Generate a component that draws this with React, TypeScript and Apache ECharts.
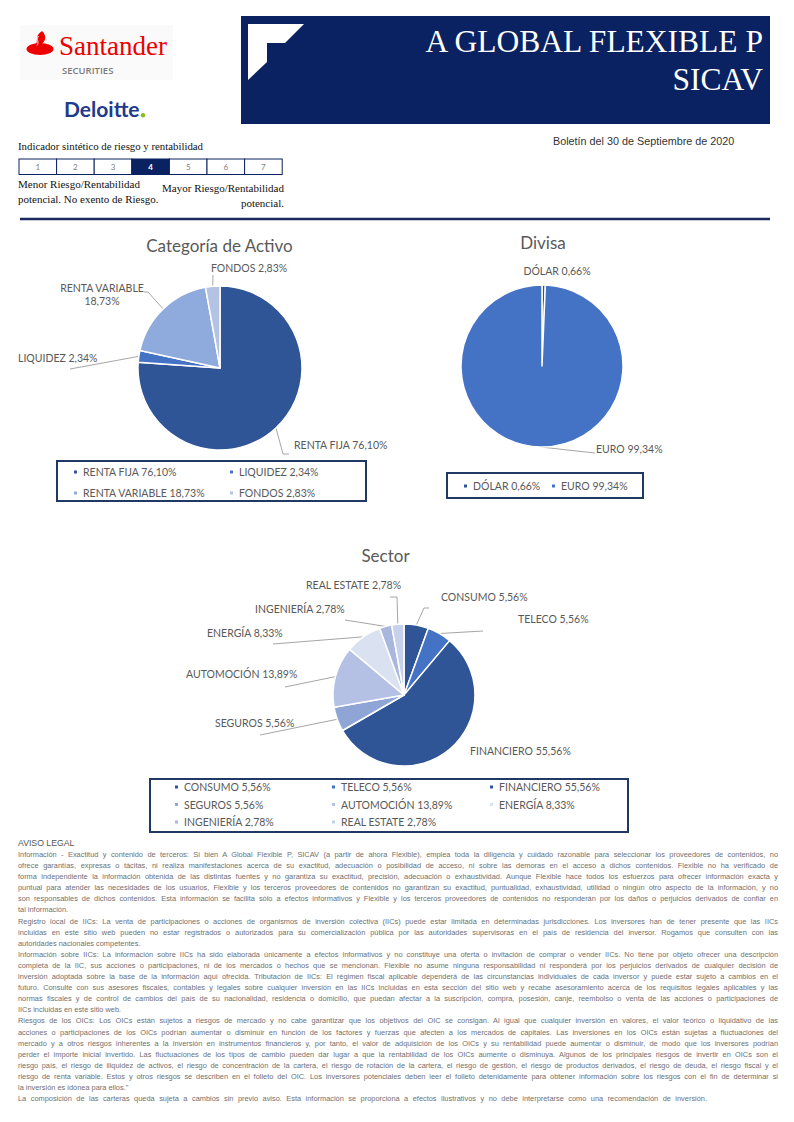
import React, { useEffect, useRef } from 'react';
import * as echarts from 'echarts';

// ---------- DATA ----------
const assetCategories = ['RENTA FIJA', 'LIQUIDEZ', 'RENTA VARIABLE', 'FONDOS'];
const assetValues = [76.1, 2.34, 18.73, 2.83];

const currencyCategories = ['DÓLAR', 'EURO'];
const currencyValues = [0.66, 99.34];

const sectorCategories = ['CONSUMO', 'TELECO', 'FINANCIERO', 'SEGUROS', 'AUTOMOCIÓN', 'ENERGÍA', 'INGENIERÍA', 'REAL ESTATE'];
const sectorValues = [5.56, 5.56, 55.56, 5.56, 13.89, 8.33, 2.78, 2.78];

const riskLevels = [1, 2, 3, 4, 5, 6, 7];
const riskSelected = 4;

const chartTitles = ['Categoría de Activo', 'Divisa', 'Sector'];

const legalLines: { t: string; last?: boolean }[] = [
  { t: 'Información - Exactitud y contenido de terceros: Si bien A Global Flexible P, SICAV (a partir de ahora Flexible), emplea toda la diligencia y cuidado razonable para seleccionar los proveedores de contenidos, no' },
  { t: 'ofrece garantías, expresas o tácitas, ni realiza manifestaciones acerca de su exactitud, adecuación o posibilidad de acceso, ni sobre las demoras en el acceso a dichos contenidos. Flexible no ha verificado de' },
  { t: 'forma independiente la información obtenida de las distintas fuentes y no garantiza su exactitud, precisión, adecuación o exhaustividad. Aunque Flexible hace todos los esfuerzos para ofrecer información exacta y' },
  { t: 'puntual para atender las necesidades de los usuarios, Flexible y los terceros proveedores de contenidos no garantizan su exactitud, puntualidad, exhaustividad, utilidad o ningún otro aspecto de la información, y no' },
  { t: 'son responsables de dichos contenidos. Esta información se facilita sólo a efectos informativos y Flexible y los terceros proveedores de contenidos no responderán por los daños o perjuicios derivados de confiar en' },
  { t: 'tal información.', last: true },
  { t: 'Registro local de IICs: La venta de participaciones o acciones de organismos de inversión colectiva (IICs) puede estar limitada en determinadas jurisdicciones. Los inversores han de tener presente que las IICs' },
  { t: 'incluidas en este sitio web pueden no estar registrados o autorizados para su comercialización pública por las autoridades supervisoras en el país de residencia del inversor. Rogamos que consulten con las' },
  { t: 'autoridades  nacionales  competentes.', last: true },
  { t: 'Información sobre IICs: La información sobre IICs ha sido elaborada únicamente a efectos informativos y no constituye una oferta o invitación de comprar o vender IICs. No tiene por objeto ofrecer una descripción' },
  { t: 'completa de la IIC, sus acciones o participaciones, ni de los mercados o hechos que se mencionan. Flexible no asume ninguna responsabilidad ni responderá por los perjuicios derivados de cualquier decisión de' },
  { t: 'inversión adoptada sobre la base de la información aquí ofrecida. Tributación de IICs: El régimen fiscal aplicable dependerá de las circunstancias individuales de cada inversor y puede estar sujeto a cambios en el' },
  { t: 'futuro. Consulte con sus asesores fiscales, contables y legales sobre cualquier inversión en las IICs incluidas en esta sección del sitio web y recabe asesoramiento acerca de los requisitos legales aplicables y las' },
  { t: 'normas fiscales y de control de cambios del país de su nacionalidad, residencia o domicilio, que puedan afectar a la suscripción, compra, posesión, canje, reembolso o venta de las acciones o participaciones de' },
  { t: 'IICs incluidas en este sitio web.', last: true },
  { t: 'Riesgos de los OICs: Los OICs están sujetos a riesgos de mercado y no cabe garantizar que los objetivos del OIC se consigan. Al igual que cualquier inversión en valores, el valor teórico o liquidativo de las' },
  { t: 'acciones o participaciones de los OICs podrían aumentar o disminuir en función de los factores y fuerzas que afecten a los mercados de capitales. Las inversiones en los OICs están sujetas a fluctuaciones del' },
  { t: 'mercado y a otros riesgos inherentes a la inversión en instrumentos financieros y, por tanto, el valor de adquisición de los OICs y su rentabilidad puede aumentar o disminuir, de modo que los inversores podrían' },
  { t: 'perder el importe inicial invertido. Las fluctuaciones de los tipos de cambio pueden dar lugar a que la rentabilidad de los OICs aumente o disminuya. Algunos de los principales riesgos de invertir en OICs son el' },
  { t: 'riesgo país, el riesgo de iliquidez de activos, el riesgo de concentración de la cartera, el riesgo de rotación de la cartera, el riesgo de gestión, el riesgo de productos derivados, el riesgo de deuda, el riesgo fiscal y el' },
  { t: 'riesgo de renta variable. Estos y otros riesgos se describen en el folleto del OIC. Los inversores potenciales deben leer el folleto detenidamente para obtener información sobre los riesgos con el fin de determinar si' },
  { t: 'la inversión es idónea para ellos."', last: true },
  { t: 'La composición de las carteras queda  sujeta a cambios sin previo aviso. Esta información se proporciona a efectos ilustrativos y no debe interpretarse como una recomendación  de inversión.', last: true },
];

// ---------- STYLES ----------
const NAVY = '#0B2262';
const BOX = '#1F3864';
const FONT = 'Lato, "Open Sans", sans-serif';
const assetColors = ['#2F5597', '#4472C4', '#8FAADC', '#B4C2E4'];
const currencyColors = ['#2F5597', '#4472C4'];
const sectorColors = ['#2F5597', '#4472C4', '#2F5597', '#8EA5D6', '#B4C1E4', '#DAE1F1', '#A9B6DD', '#C8D1EC'];
const finalLegalLineWidth = 689;

type LP = { x: number; y: number; align: string; line: number[][] };
const assetLabelPos: LP[] = [
  { x: 294, y: 445, align: 'left', line: [[283, 454], [289, 454]] },
  { x: 18, y: 358, align: 'left', line: [[70, 369]] },
  { x: 102, y: 294, align: 'center', line: [[148, 292], [144, 292]] },
  { x: 211, y: 268, align: 'left', line: [[213, 275]] },
];
const currencyLabelPos: LP[] = [
  { x: 557, y: 271, align: 'center', line: [] },
  { x: 596, y: 449, align: 'left', line: [[595, 453]] },
];
const sectorLabelPos: LP[] = [
  { x: 441, y: 597, align: 'left', line: [[424, 608], [429, 608]] },
  { x: 518, y: 619, align: 'left', line: [[483, 631]] },
  { x: 470, y: 751, align: 'left', line: [] },
  { x: 215, y: 723, align: 'left', line: [[260, 735]] },
  { x: 186, y: 674, align: 'left', line: [[285, 687]] },
  { x: 207, y: 633, align: 'left', line: [[273, 644]] },
  { x: 255, y: 609, align: 'left', line: [[345, 620]] },
  { x: 306, y: 585, align: 'left', line: [[397, 597], [390, 597]] },
];
const twoLineLabels = new Set(['RENTA VARIABLE']);

const fmtPct = (v: number) => v.toFixed(2).replace('.', ',') + '%';

const valueByName = new Map<string, number>();
assetCategories.forEach((n, i) => valueByName.set(n, assetValues[i]));
currencyCategories.forEach((n, i) => valueByName.set(n, currencyValues[i]));
sectorCategories.forEach((n, i) => valueByName.set(n, sectorValues[i]));

function labelLayoutFor(positions: LP[]) {
  return (params: any) => {
    const p = positions[params.dataIndex];
    if (!p) return {};
    const pts = params.labelLinePoints;
    const out: any = { x: p.x, y: p.y, align: p.align, verticalAlign: 'middle' };
    if (pts && pts.length) {
      const edge = pts[0];
      const line = [edge, ...p.line];
      if (line.length === 1) line.push([edge[0], edge[1]]);
      out.labelLinePoints = line;
    }
    return out;
  };
}

function pieSeries(cats: string[], vals: number[], colors: string[], center: number[], radius: number, pos: LP[]) {
  return {
    type: 'pie',
    center,
    radius,
    startAngle: 90,
    clockwise: true,
    avoidLabelOverlap: false,
    emphasis: { disabled: true },
    data: cats.map((n, i) => ({ name: n, value: vals[i], itemStyle: { color: colors[i] } })),
    itemStyle: { borderColor: '#ffffff', borderWidth: 1.5 },
    label: {
      show: true,
      position: 'outside',
      fontFamily: FONT,
      fontSize: 10.5,
      color: '#595959',
      lineHeight: 13,
      formatter: (p: any) =>
        twoLineLabels.has(p.name) ? `${p.name}\n${fmtPct(p.value)}` : `${p.name} ${fmtPct(p.value)}`,
    },
    labelLine: { show: true, length: 6, length2: 6, lineStyle: { color: '#A6A6A6', width: 1 } },
    labelLayout: labelLayoutFor(pos),
  };
}

function legendCol(names: string[], left: number, top: number, gap: number) {
  return {
    data: names,
    orient: 'vertical',
    left,
    top,
    itemGap: gap,
    itemWidth: 5,
    itemHeight: 5,
    icon: 'rect',
    padding: 0,
    selectedMode: false,
    textStyle: { fontFamily: FONT, fontSize: 10.5, color: '#595959', lineHeight: 12 },
    formatter: (n: string) => `${n} ${fmtPct(valueByName.get(n) || 0)}`,
  };
}

function Charts() {
  const ref = useRef<HTMLDivElement>(null);
  useEffect(() => {
    if (!ref.current) return;
    const chart = echarts.init(ref.current, undefined, { renderer: 'svg' });
    const titleStyle = (text: string, x: number, y: number) => ({
      type: 'text',
      x,
      y,
      style: { text, fill: '#595959', fontFamily: FONT, fontSize: 17, align: 'center', verticalAlign: 'middle' },
    });
    const boxStyle = (x: number, y: number, w: number, h: number) => ({
      type: 'rect',
      shape: { x, y, width: w, height: h },
      style: { fill: 'none', stroke: BOX, lineWidth: 2 },
    });
    chart.setOption({
      animation: false,
      backgroundColor: 'transparent',
      graphic: [
        titleStyle(chartTitles[0], 219.5, 245),
        titleStyle(chartTitles[1], 543, 242),
        titleStyle(chartTitles[2], 385.5, 555),
        boxStyle(57, 461, 309, 40),
        boxStyle(447, 473, 196, 25),
        boxStyle(150, 779, 478, 53),
      ],
      legend: [
        legendCol([assetCategories[0], assetCategories[2]], 72, 466, 9),
        legendCol([assetCategories[1], assetCategories[3]], 228, 466, 9),
        legendCol([currencyCategories[0]], 462, 480, 5),
        legendCol([currencyCategories[1]], 550, 480, 5),
        legendCol(sectorCategories.filter((_, i) => i % 3 === 0), 173, 781, 5.5),
        legendCol(sectorCategories.filter((_, i) => i % 3 === 1), 330, 781, 5.5),
        legendCol(sectorCategories.filter((_, i) => i % 3 === 2), 488, 781, 5.5),
      ],
      series: [
        pieSeries(assetCategories, assetValues, assetColors, [220, 368], 82, assetLabelPos),
        pieSeries(currencyCategories, currencyValues, currencyColors, [542, 366], 81, currencyLabelPos),
        pieSeries(sectorCategories, sectorValues, sectorColors, [404, 695], 71, sectorLabelPos),
      ],
    } as any);
    return () => chart.dispose();
  }, []);
  return <div ref={ref} style={{ position: 'absolute', left: 0, top: 0, width: 794, height: 840 }} />;
}

function Header() {
  const cellW = 37.6;
  return (
    <svg width={794} height={225} style={{ position: 'absolute', left: 0, top: 0 }}>
      <rect x={20} y={25} width={153} height={55} fill="#FAFAFA" />
      <ellipse cx={40} cy={49} rx={13.5} ry={6} fill="#EC0000" />
      <path d="M42 31 C34 36 39 41 35 46.5 C44 45 49 38 42 31 Z" fill="#EC0000" />
      <path d="M38.5 36 C36 39.5 39.5 42 37 45.5" stroke="#ffffff" strokeWidth={0.9} fill="none" />
      <text x={59} y={55} fontFamily="'Liberation Serif', serif" fontSize={27} fill="#EC0000">Santander</text>
      <text x={62} y={74} fontFamily="'Open Sans', sans-serif" fontWeight={600} fontSize={9.5} fill="#7A7A7A">SECURITIES</text>
      <text x={64} y={117} fontFamily="Lato, sans-serif" fontWeight={700} fontSize={21} fill="#1E3A8A">Deloitte</text>
      <circle cx={143} cy={115.3} r={2.2} fill="#86BC25" />

      <rect x={241} y={16} width={529} height={108} fill={NAVY} />
      <polygon points="248,24 304,24 285,43 267,43 267,62 248,80" fill="#ffffff" />
      <text x={763} y={52} textAnchor="end" fontFamily="'Liberation Serif', serif" fontSize={31.5} fill="#ffffff">A GLOBAL FLEXIBLE P</text>
      <text x={763} y={90} textAnchor="end" fontFamily="'Liberation Serif', serif" fontSize={31.5} fill="#ffffff">SICAV</text>

      <text x={553} y={145} fontFamily="'Liberation Sans', Arial, sans-serif" fontSize={10.8} fill="#333333">Boletín del 30 de Septiembre de 2020</text>

      <text x={18} y={150} fontFamily="'Liberation Serif', serif" fontSize={10.8} fill="#111111">Indicador sintético de riesgo y rentabilidad</text>
      {riskLevels.map((lv, i) => (
        <g key={lv}>
          <rect x={19 + i * cellW} y={159} width={cellW} height={15.5} fill={lv === riskSelected ? NAVY : '#ffffff'} stroke={NAVY} strokeWidth={1} />
          <text x={19 + i * cellW + cellW / 2} y={170} textAnchor="middle" fontFamily={FONT} fontSize={8} fontWeight={lv === riskSelected ? 700 : 400} fill={lv === riskSelected ? '#ffffff' : '#808080'}>{lv}</text>
        </g>
      ))}
      <text x={18} y={188} fontFamily="'Liberation Serif', serif" fontSize={11} fill="#111111">Menor Riesgo/Rentabilidad</text>
      <text x={18} y={203} fontFamily="'Liberation Serif', serif" fontSize={11} fill="#111111">potencial. No exento de Riesgo.</text>
      <text x={284} y={192} textAnchor="end" fontFamily="'Liberation Serif', serif" fontSize={11} fill="#111111">Mayor Riesgo/Rentabilidad</text>
      <text x={284} y={207} textAnchor="end" fontFamily="'Liberation Serif', serif" fontSize={11} fill="#111111">potencial.</text>

      <line x1={20} y1={219} x2={770} y2={219} stroke="#1B2A5E" strokeWidth={2.5} />
    </svg>
  );
}

function Legal() {
  const lastIdx = legalLines.length - 1;
  return (
    <div style={{ position: 'absolute', left: 18, top: 837, width: 760, fontFamily: "'Liberation Sans', Arial, sans-serif", color: '#707070' }}>
      <div style={{ fontSize: 8.7, lineHeight: '12px', height: 12, color: '#555555' }}>AVISO LEGAL</div>
      {legalLines.map((l, i) => {
        const spread = !l.last || i === lastIdx;
        return (
          <div
            key={i}
            style={{
              fontSize: 7.4,
              lineHeight: '11.1px',
              height: 11.1,
              width: i === lastIdx ? finalLegalLineWidth : 760,
              whiteSpace: 'nowrap',
              textAlign: spread ? 'justify' : 'left',
              textAlignLast: spread ? 'justify' : 'left',
            } as any}
          >
            {l.t}
          </div>
        );
      })}
    </div>
  );
}

export default function App() {
  return (
    <div style={{ position: 'absolute', left: 0, top: 0, width: 794, height: 1122, background: '#ffffff', overflow: 'hidden' }}>
      <Header />
      <Charts />
      <Legal />
    </div>
  );
}
